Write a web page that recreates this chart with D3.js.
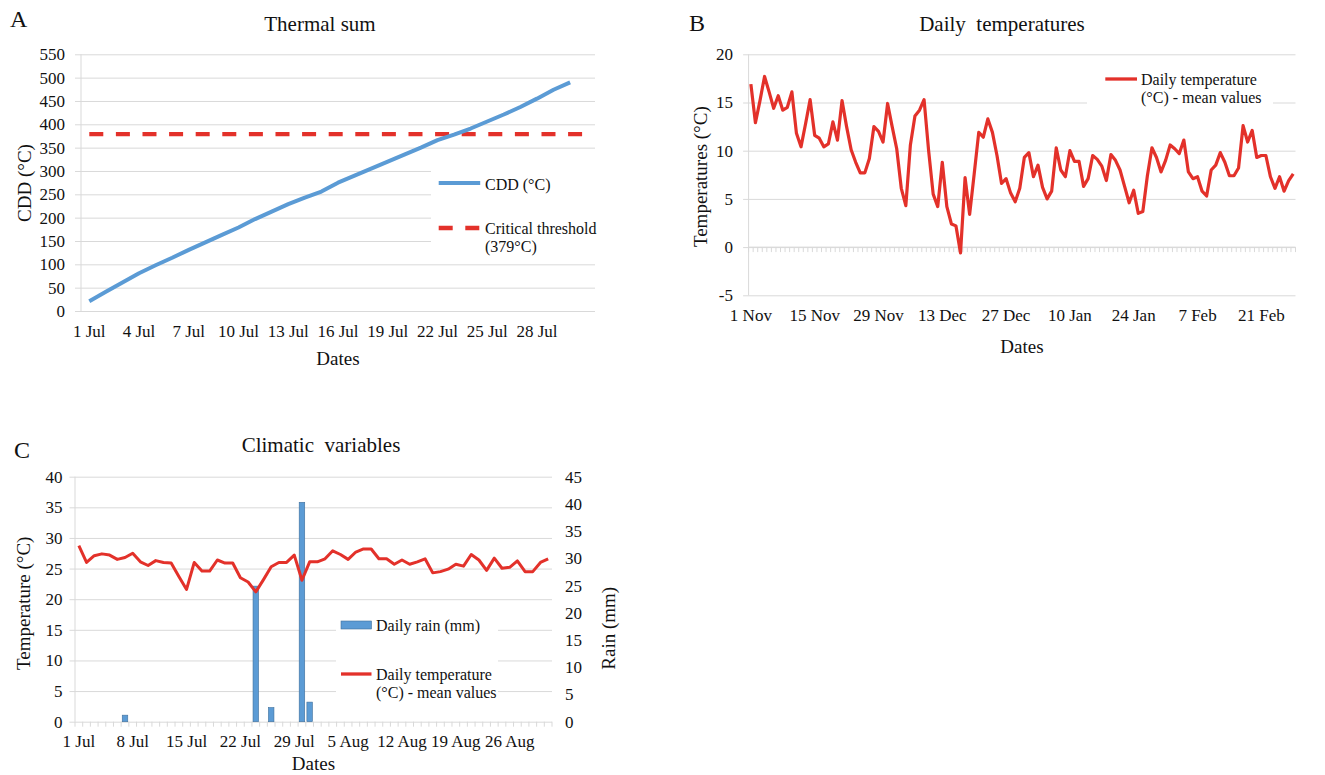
<!DOCTYPE html>
<html><head><meta charset="utf-8">
<script src="https://cdn.jsdelivr.net/npm/d3@7"></script>
<style>
html,body{margin:0;padding:0;background:#fff;}
svg{display:block;}
</style></head><body>
<svg id="chart" width="1325" height="775"></svg>
<script>
// ---------------- DATA ----------------
function makeDays(months){ // category labels, e.g. [["Jul",31]]
  const out=[]; months.forEach(([m,n])=>{for(let d=1;d<=n;d++) out.push(d+" "+m);}); return out;
}
// Panel A – thermal sum
const thermalCategories = makeDays([["Jul",31]]);
const thermalTickLabels = ["1 Jul","4 Jul","7 Jul","10 Jul","13 Jul","16 Jul","19 Jul","22 Jul","25 Jul","28 Jul"];
const cddValues = [21,41,61,81,98,114,131,147,163,179,197,213,229,243,256,275,290,305,320,335,350,366,378,391,406,421,437,455,474,490];
const thresholdValue = 379;
const thermalYTicks = [0,50,100,150,200,250,300,350,400,450,500,550];

// Panel B – daily temperatures (1 Nov – 28 Feb)
const winterCategories = makeDays([["Nov",30],["Dec",31],["Jan",31],["Feb",28]]);
const winterTickLabels = ["1 Nov","15 Nov","29 Nov","13 Dec","27 Dec","10 Jan","24 Jan","7 Feb","21 Feb"];
const winterTemps = [16.9,12.9,15.2,17.7,16.1,14.4,15.7,14.2,14.5,16.1,
 11.8,10.4,12.8,15.3,11.6,11.3,10.4,10.7,13.0,11.1,
 15.2,12.5,10.1,8.8,7.7,7.7,9.2,12.5,12.0,10.9,
 14.9,12.5,10.2,6.1,4.3,10.6,13.6,14.2,15.3,10.0,
 5.5,4.2,8.8,4.2,2.4,2.2,-0.6,7.2,3.4,7.6,
 11.9,11.4,13.3,11.9,9.5,6.6,7.1,5.6,4.7,6.1,
 9.3,9.8,7.3,8.5,6.2,5.0,5.8,10.3,8.0,7.3,
 10.0,8.9,8.9,6.3,7.1,9.5,9.1,8.4,6.9,9.6,
 9.0,8.0,6.3,4.6,5.9,3.5,3.7,7.4,10.3,9.3,
 7.8,9.0,10.6,10.2,9.7,11.1,7.8,7.1,7.3,5.8,
 5.3,8.0,8.5,9.8,8.8,7.4,7.4,8.2,12.6,10.9,
 12.1,9.3,9.5,9.5,7.3,6.1,7.3,5.8,6.9,7.6];
const winterYTicks = [-5,0,5,10,15,20];

// Panel C – climatic variables (1 Jul – 31 Aug)
const summerCategories = makeDays([["Jul",31],["Aug",31]]);
const summerTickLabels = ["1 Jul","8 Jul","15 Jul","22 Jul","29 Jul","5 Aug","12 Aug","19 Aug","26 Aug"];
const summerTemps = [28.75,26.0,27.1,27.4,27.2,26.5,26.8,27.5,26.1,25.5,
 26.3,26.0,25.9,23.7,21.6,26.0,24.6,24.6,26.4,25.9,
 25.9,23.5,22.8,21.2,23.2,25.3,26.0,26.0,27.2,23.1,
 26.1,26.1,26.6,27.9,27.3,26.5,27.7,28.2,28.2,26.6,
 26.6,25.7,26.4,25.7,26.1,26.6,24.3,24.5,24.9,25.7,
 25.4,27.3,26.4,24.7,26.7,25.05,25.2,26.25,24.5,24.5,
 26.0,26.6];
const summerRain = [0,0,0,0,0,0,1.2,0,0,0,
 0,0,0,0,0,0,0,0,0,0,
 0,0,0,24.9,0,2.6,0,0,0,40.3,
 3.6,0,0,0,0,0,0,0,0,0,
 0,0,0,0,0,0,0,0,0,0,
 0,0,0,0,0,0,0,0,0,0,
 0,0];
const tempYTicks = [0,5,10,15,20,25,30,35,40];
const rainYTicks = [0,5,10,15,20,25,30,35,40,45];

// ---------------- STYLE ----------------
const FONT = "'Liberation Serif','Times New Roman',Times,serif";
const GRID = "#d9d9d9", RED = "#e3312a", BLUE = "#5b9bd5", BAR_STROKE = "#41719c", TXT = "#111";
const svg = d3.select("#chart").attr("font-family", FONT);

function text(g, x, y, s, size, anchor, rot){
  const t = g.append("text").attr("font-size", size).attr("fill", TXT)
    .attr("text-anchor", anchor || "start").style("white-space","pre").text(s);
  if (rot) t.attr("transform", `translate(${x},${y}) rotate(-90)`);
  else t.attr("x", x).attr("y", y);
  return t;
}
function grid(g, y, ticks, x0, x1){
  g.append("g").attr("transform", `translate(${x1},0)`)
    .call(d3.axisLeft(y).tickValues(ticks).tickSize(x1 - x0).tickFormat(""))
    .call(s => s.select(".domain").remove())
    .call(s => s.selectAll("line").attr("stroke", GRID).attr("stroke-width", 1));
}
function yLabels(g, y, ticks, x, pad, right){
  const ax = (right ? d3.axisRight(y) : d3.axisLeft(y)).tickValues(ticks).tickSize(0).tickPadding(pad).tickFormat(d => String(d));
  g.append("g").attr("transform", `translate(${x},0)`).call(ax)
    .attr("font-family", FONT).attr("font-size", 17)
    .call(s => s.select(".domain").remove())
    .call(s => s.selectAll("text").attr("fill", TXT));
}
function xLabels(g, x, ticks, y, pad){
  g.append("g").attr("transform", `translate(0,${y})`)
    .call(d3.axisBottom(x).tickValues(ticks).tickSize(0).tickPadding(pad))
    .attr("font-family", FONT).attr("font-size", 17)
    .call(s => s.select(".domain").remove())
    .call(s => s.selectAll("text").attr("fill", TXT));
}
function catTicks(g, x, cats, y, len){
  const r = x.range();
  g.append("g").selectAll("line").data(cats.concat([null])).join("line")
    .attr("x1", d => d === null ? r[1] : x(d)).attr("x2", d => d === null ? r[1] : x(d))
    .attr("y1", y).attr("y2", y + len).attr("stroke", GRID);
}
function hline(g, x0, x1, y){ g.append("line").attr("x1", x0).attr("x2", x1).attr("y1", y).attr("y2", y).attr("stroke", GRID); }
function vline(g, x, y0, y1){ g.append("line").attr("x1", x).attr("x2", x).attr("y1", y0).attr("y2", y1).attr("stroke", GRID); }

// ---------------- PANEL A ----------------
{
  const g = svg.append("g");
  const L = 81, R = 595, T = 54.3, B = 311;
  const x = d3.scaleBand().domain(thermalCategories).range([L, R]);
  const y = d3.scaleLinear().domain([0, 550]).range([B, T]);
  const cx = d => x(d) + x.bandwidth() / 2;
  grid(g, y, thermalYTicks, L - 6, R);
  vline(g, L, T, B);
  yLabels(g, y, thermalYTicks, L, 16);
  xLabels(g, x, thermalTickLabels, B, 13.9);
  g.append("rect").attr("x", 431).attr("y", 163).attr("width", 170).attr("height", 94).attr("fill", "#fff");
  const thr = thermalCategories.map(c => ({c, v: thresholdValue}));
  g.append("path").datum(thr).attr("fill", "none").attr("stroke", RED).attr("stroke-width", 4.3)
    .attr("stroke-dasharray", "14,12.6")
    .attr("d", d3.line().x(d => cx(d.c)).y(d => y(d.v)));
  g.append("path").datum(cddValues).attr("fill", "none").attr("stroke", BLUE).attr("stroke-width", 4)
    .attr("stroke-linejoin", "round")
    .attr("d", d3.line().x((d, i) => cx(thermalCategories[i])).y(d => y(d)));
  g.append("line").attr("x1", 438.7).attr("x2", 480.2).attr("y1", 183).attr("y2", 183).attr("stroke", BLUE).attr("stroke-width", 4);
  text(g, 485, 189.5, "CDD (°C)", 16);
  g.append("line").attr("x1", 438.7).attr("x2", 480.2).attr("y1", 228).attr("y2", 228).attr("stroke", RED).attr("stroke-width", 4.3).attr("stroke-dasharray", "14,12.6");
  text(g, 485, 234, "Critical threshold", 16);
  text(g, 485, 252.3, "(379°C)", 16);
  text(g, 10, 27, "A", 24);
  text(g, 320, 30.5, "Thermal sum", 21, "middle");
  text(g, 30.5, 183, "CDD (°C)", 19, "middle", true);
  text(g, 338, 364.5, "Dates", 19, "middle");
}

// ---------------- PANEL B ----------------
{
  const g = svg.append("g");
  const L = 748.6, R = 1295.5, T = 54.3, B = 295.3;
  const x = d3.scaleBand().domain(winterCategories).range([L, R]);
  const y = d3.scaleLinear().domain([-5, 20]).range([B, T]);
  const cx = d => x(d) + x.bandwidth() / 2;
  grid(g, y, winterYTicks, L - 5.5, R);
  vline(g, L, T, B);
  hline(g, L, R, y(0));
  catTicks(g, x, winterCategories, y(0), 5);
  yLabels(g, y, winterYTicks, L, 15.6);
  xLabels(g, x, winterTickLabels, B, 14.1);
  g.append("rect").attr("x", 1087).attr("y", 64).attr("width", 186).attr("height", 46).attr("fill", "#fff");
  g.append("path").datum(winterTemps).attr("fill", "none").attr("stroke", RED).attr("stroke-width", 3.2)
    .attr("stroke-linejoin", "round")
    .attr("d", d3.line().x((d, i) => cx(winterCategories[i])).y(d => y(d)));
  g.append("line").attr("x1", 1105.3).attr("x2", 1137).attr("y1", 79).attr("y2", 79).attr("stroke", RED).attr("stroke-width", 3.3);
  text(g, 1141, 84.6, "Daily temperature", 16);
  text(g, 1141, 103.2, "(°C) - mean values", 16);
  text(g, 689, 31, "B", 24);
  text(g, 1002, 30.5, "Daily  temperatures", 21, "middle");
  text(g, 707, 176.7, "Temperatures (°C)", 19, "middle", true);
  text(g, 1022, 352.5, "Dates", 19, "middle");
}

// ---------------- PANEL C ----------------
{
  const g = svg.append("g");
  const L = 75, R = 552, T = 476.7, B = 721.7;
  const x = d3.scaleBand().domain(summerCategories).range([L, R]);
  const yT = d3.scaleLinear().domain([0, 40]).range([B, T]);
  const yR = d3.scaleLinear().domain([0, 45]).range([B, T]);
  const cx = d => x(d) + x.bandwidth() / 2;
  grid(g, yT, tempYTicks, L - 5.5, R);
  vline(g, L, T, B);
  catTicks(g, x, summerCategories, B, 5);
  yLabels(g, yT, tempYTicks, L, 12.5);
  yLabels(g, yR, rainYTicks, R, 13, true);
  xLabels(g, x, summerTickLabels, B, 13.2);
  g.append("rect").attr("x", 336).attr("y", 606).attr("width", 162).attr("height", 100).attr("fill", "#fff");
  const bw = x.bandwidth() * 0.72;
  g.append("g").selectAll("rect").data(summerRain.map((v, i) => ({c: summerCategories[i], v})).filter(d => d.v > 0))
    .join("rect")
    .attr("x", d => x(d.c) + (x.bandwidth() - bw) / 2).attr("width", bw)
    .attr("y", d => yR(d.v)).attr("height", d => B - yR(d.v))
    .attr("fill", BLUE).attr("stroke", BAR_STROKE).attr("stroke-width", 0.6);
  g.append("path").datum(summerTemps).attr("fill", "none").attr("stroke", RED).attr("stroke-width", 3)
    .attr("stroke-linejoin", "round")
    .attr("d", d3.line().x((d, i) => cx(summerCategories[i])).y(d => yT(d)));
  g.append("rect").attr("x", 341).attr("y", 621).attr("width", 30.5).attr("height", 8).attr("fill", BLUE).attr("stroke", BAR_STROKE).attr("stroke-width", 0.6);
  text(g, 376, 630.5, "Daily rain (mm)", 16);
  g.append("line").attr("x1", 341).attr("x2", 371.5).attr("y1", 674).attr("y2", 674).attr("stroke", RED).attr("stroke-width", 3.3);
  text(g, 376, 679.5, "Daily temperature", 16);
  text(g, 376, 697.5, "(°C) - mean values", 16);
  text(g, 14, 458, "C", 24);
  text(g, 321, 452.3, "Climatic  variables", 21, "middle");
  text(g, 30.4, 603.3, "Temperature (°C)", 19, "middle", true);
  text(g, 615, 628.3, "Rain (mm)", 19, "middle", true);
  text(g, 313.4, 769.5, "Dates", 19, "middle");
}
</script>
</body></html>
